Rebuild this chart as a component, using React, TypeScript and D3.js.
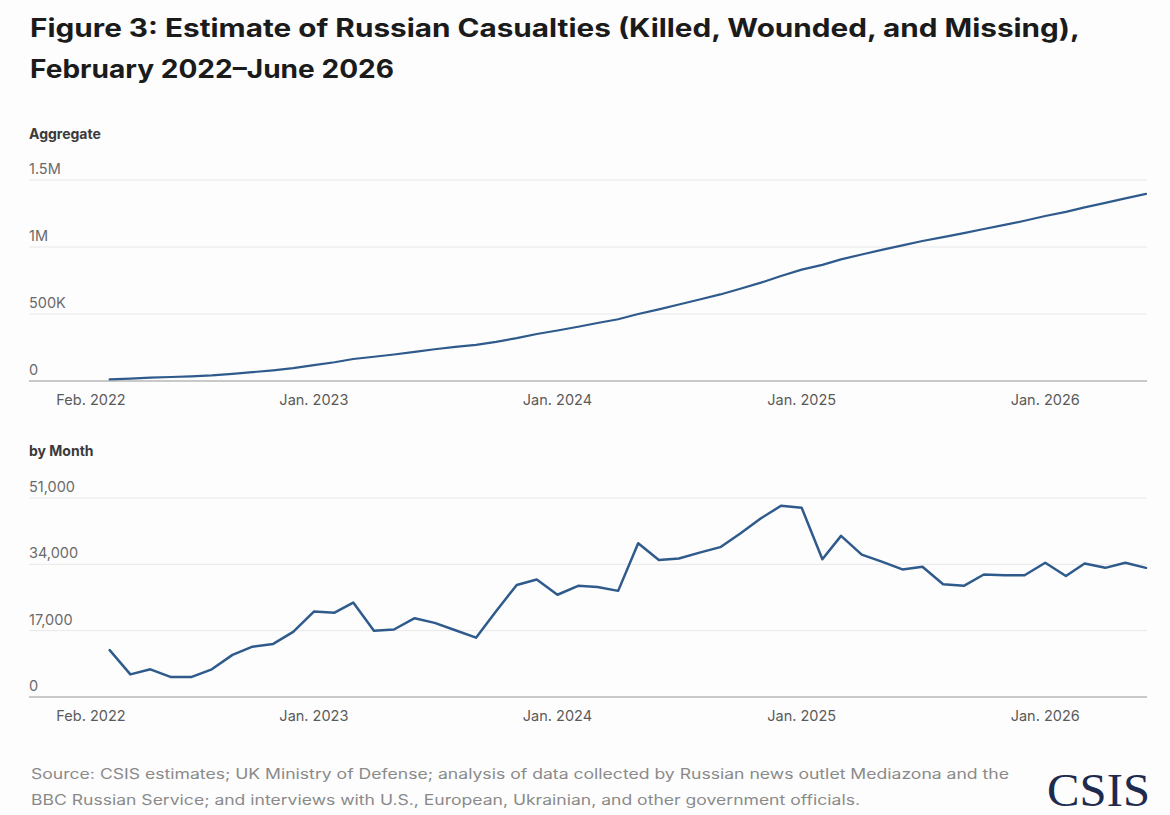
import React, { useRef, useEffect } from 'react';
import * as d3 from 'd3';

// Monthly estimates, Mar. 2022 through Jun. 2026
const months: string[] = [
  '2022-03', '2022-04', '2022-05', '2022-06', '2022-07', '2022-08', '2022-09', '2022-10', '2022-11', '2022-12',
  '2023-01', '2023-02', '2023-03', '2023-04', '2023-05', '2023-06', '2023-07', '2023-08', '2023-09', '2023-10', '2023-11', '2023-12',
  '2024-01', '2024-02', '2024-03', '2024-04', '2024-05', '2024-06', '2024-07', '2024-08', '2024-09', '2024-10', '2024-11', '2024-12',
  '2025-01', '2025-02', '2025-03', '2025-04', '2025-05', '2025-06', '2025-07', '2025-08', '2025-09', '2025-10', '2025-11', '2025-12',
  '2026-01', '2026-02', '2026-03', '2026-04', '2026-05', '2026-06',
];

const monthly: number[] = [
  12000, 5800, 7100, 5100, 5100, 7100, 10800, 12900, 13600, 16700,
  21900, 21600, 24200, 17000, 17300, 20200, 19000, 17100, 15200, 22000, 28700, 30100,
  26200, 28500, 28200, 27200, 39400, 35100, 35500, 37000, 38400, 41900, 45800, 49000,
  48500, 35300, 41300, 36500, 34700, 32700, 33400, 28900, 28500, 31400, 31200, 31200,
  34400, 31000, 34200, 33100, 34400, 33100,
];

const aggregate: number[] = [
  12000, 18000, 25000, 30000, 35000, 42000, 53000, 66000, 80000, 96000,
  118000, 140000, 164000, 181000, 198000, 218000, 237000, 255000, 270000, 292000, 320000, 351000,
  377000, 405000, 433000, 461000, 500000, 535000, 571000, 608000, 646000, 688000, 734000, 783000,
  831000, 867000, 908000, 944000, 979000, 1012000, 1045000, 1074000, 1103000, 1134000, 1165000, 1196000,
  1231000, 1262000, 1296000, 1329000, 1363000, 1397000,
];

const xTicks: string[] = ['2022-02', '2023-01', '2024-01', '2025-01', '2026-01'];
const aggTicks: number[] = [0, 500000, 1000000, 1500000];
const aggTickLabels: string[] = ['0', '500K', '1M', '1.5M'];
const monthTicks: number[] = [0, 17000, 34000, 51000];
const monthTickLabels: string[] = ['0', '17,000', '34,000', '51,000'];

const titleLines = [
  'Figure 3: Estimate of Russian Casualties (Killed, Wounded, and Missing),',
  'February 2022\u2013June 2026',
];
const titleWidths = [1050, 364];
const sourceLines = [
  'Source: CSIS estimates; UK Ministry of Defense; analysis of data collected by Russian news outlet Mediazona and the',
  'BBC Russian Service; and interviews with U.S., European, Ukrainian, and other government officials.',
];
const sourceWidths = [978, 829];

const parseMonth = d3.timeParse('%Y-%m');
const LINE = '#2f5a8c';
const FONT = 'Inter, Roboto, sans-serif';

const App = () => {
  const svgRef = useRef<SVGSVGElement | null>(null);

  useEffect(() => {
    const svg = d3.select(svgRef.current);
    svg.selectAll('*').remove();

    const width = 1170;
    const left = 29;
    const right = 1147;

    svg.append('rect').attr('width', width).attr('height', 815).attr('fill', '#fdfdfd');

    // Title
    svg.append('g')
      .selectAll('text')
      .data(titleLines)
      .enter().append('text')
      .attr('x', left + 1)
      .attr('y', (d, i) => 37 + i * 41)
      .attr('font-family', FONT)
      .attr('font-weight', 700)
      .attr('font-size', 25)
      .attr('fill', '#1b1b1b')
      .attr('textLength', (d, i) => titleWidths[i])
      .attr('lengthAdjust', 'spacingAndGlyphs')
      .text(d => d);

    const x = d3.scaleTime()
      .domain([parseMonth('2022-02')!, parseMonth('2026-06')!])
      .range([91, 1146]);
    const fmt = d3.timeFormat('%b. %Y');

    const dates = months.map(m => parseMonth(m)!);

    const panel = (
      label: string, labelY: number, top: number, bottom: number,
      max: number, ticks: number[], tickLabels: string[], values: number[], strokeW: number,
    ) => {
      const y = d3.scaleLinear().domain([0, max]).range([bottom, top]);
      const g = svg.append('g');

      g.append('text')
        .attr('x', left)
        .attr('y', labelY)
        .attr('font-family', FONT)
        .attr('font-weight', 700)
        .attr('font-size', 14)
        .attr('fill', '#3a3a3a')
        .text(label);

      // gridlines with labels sitting above them
      ticks.forEach((t, i) => {
        g.append('line')
          .attr('x1', left)
          .attr('x2', right)
          .attr('y1', y(t))
          .attr('y2', y(t))
          .attr('stroke', t === 0 ? '#c9c9c9' : '#e8e8e8')
          .attr('stroke-width', t === 0 ? 2 : 1);
        g.append('text')
          .attr('x', left)
          .attr('y', y(t) - 6)
          .attr('font-family', FONT)
          .attr('font-size', 14.5)
          .attr('fill', '#6a6a6a')
          .text(tickLabels[i]);
      });

      // x axis labels
      g.selectAll('.xl')
        .data(xTicks.map(m => parseMonth(m)!))
        .enter().append('text')
        .attr('x', d => x(d))
        .attr('y', bottom + 24)
        .attr('text-anchor', 'middle')
        .attr('font-family', FONT)
        .attr('font-size', 14.5)
        .attr('fill', '#5a5a5a')
        .text(d => fmt(d));

      const line = d3.line<number>()
        .x((d, i) => x(dates[i]))
        .y(d => y(d));

      g.append('path')
        .datum(values)
        .attr('d', line)
        .attr('fill', 'none')
        .attr('stroke', LINE)
        .attr('stroke-width', strokeW)
        .attr('stroke-linejoin', 'round')
        .attr('stroke-linecap', 'round');
    };

    panel('Aggregate', 139, 180, 381, 1500000, aggTicks, aggTickLabels, aggregate, 2.2);
    panel('by Month', 456, 498, 697, 51000, monthTicks, monthTickLabels, monthly, 2.5);

    // Source note
    svg.append('g')
      .selectAll('text')
      .data(sourceLines)
      .enter().append('text')
      .attr('x', left + 2)
      .attr('y', (d, i) => 779 + i * 26)
      .attr('font-family', FONT)
      .attr('font-size', 14)
      .attr('fill', '#8a8a8a')
      .attr('textLength', (d, i) => sourceWidths[i])
      .attr('lengthAdjust', 'spacingAndGlyphs')
      .text(d => d);

    // Logo
    svg.append('text')
      .attr('x', 1047)
      .attr('y', 806)
      .attr('font-family', '"Liberation Serif", "DejaVu Serif", serif')
      .attr('font-size', 47)
      .attr('fill', '#1e2a4e')
      .attr('textLength', 103)
      .attr('lengthAdjust', 'spacingAndGlyphs')
      .text('CSIS');
  }, []);

  return (
    <div style={{ position: 'absolute', left: 0, top: 0 }}>
      <svg ref={svgRef} width={1170} height={815} style={{ display: 'block' }} />
    </div>
  );
};

export default App;
